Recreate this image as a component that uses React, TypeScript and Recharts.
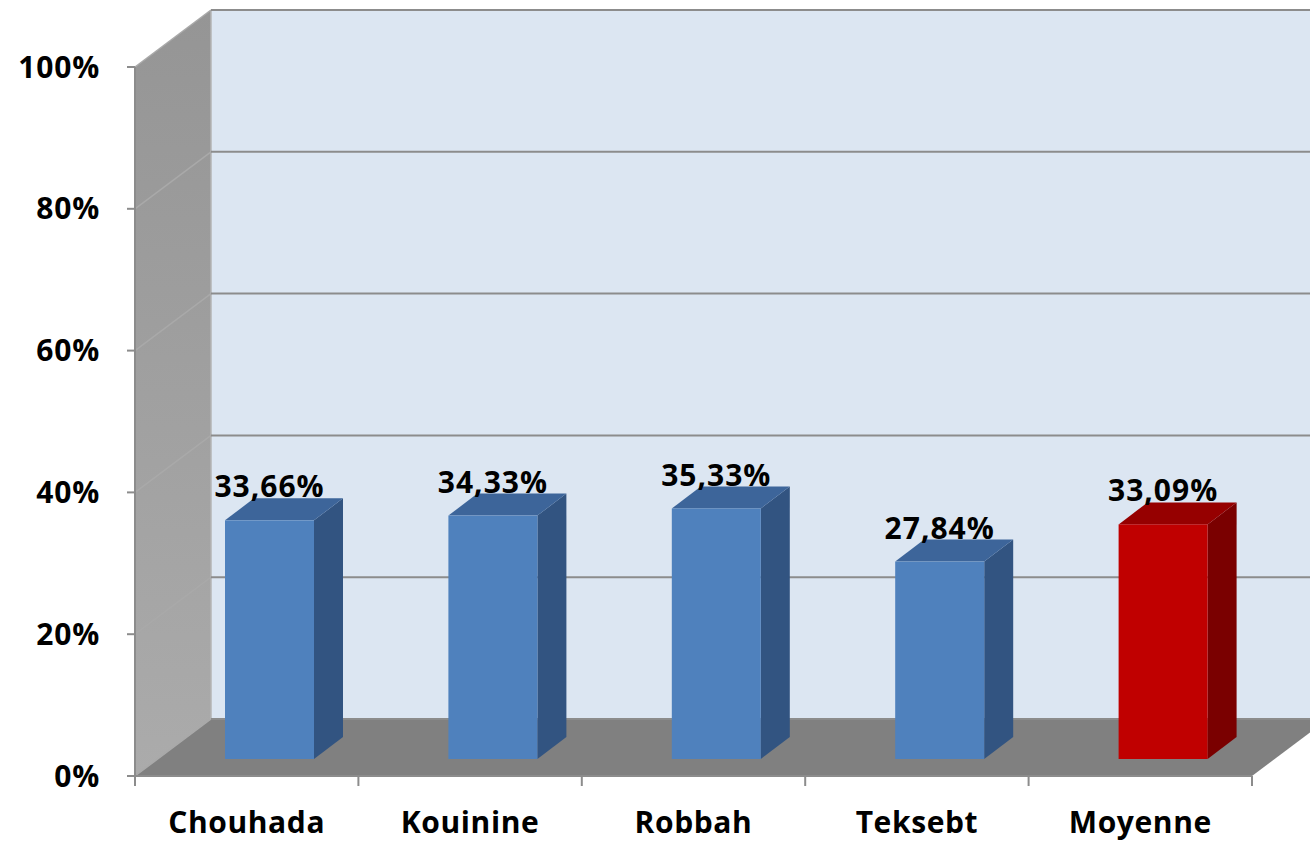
import React from 'react';
import { BarChart, Bar, XAxis, YAxis, CartesianGrid, ReferenceArea } from 'recharts';

const categories = ['Chouhada', 'Kouinine', 'Robbah', 'Teksebt', 'Moyenne'];
const values = [33.66, 34.33, 35.33, 27.84, 33.09];
const valueLabels = ['33,66%', '34,33%', '35,33%', '27,84%', '33,09%'];
const isAverage = [false, false, false, false, true];
const yTicks = [0, 20, 40, 60, 80, 100];

const data = categories.map((name, i) => ({
  name,
  value: values[i],
  label: valueLabels[i],
  avg: isAverage[i],
}));

const FONT = '"Open Sans", "Liberation Sans", sans-serif';
const DX = 76;
const DY = -57;
const BAR_OFF_X = 23;
const BAR_OFF_Y = -17;
const BAR_DEPTH_X = 29;
const BAR_DEPTH_Y = -22;

const BLUE = { front: '#4F81BD', side: '#325481', top: '#3D659A' };
const RED = { front: '#C00000', side: '#7A0000', top: '#960000' };

const Walls = (props: any) => {
  const { x, y, width, height } = props;
  const L = x;
  const R = x + width;
  const T = y;
  const B = y + height;
  return (
    <g>
      <defs>
        <linearGradient id="leftWallGrad" x1="0" y1="0" x2="0" y2="1">
          <stop offset="0" stopColor="#959595" />
          <stop offset="1" stopColor="#ABABAB" />
        </linearGradient>
      </defs>
      <polygon
        points={`${L},${T} ${L + DX},${T + DY} ${L + DX},${B + DY} ${L},${B}`}
        fill="url(#leftWallGrad)"
      />
      <rect x={L + DX} y={T + DY} width={width} height={height} fill="#DCE6F2" />
      <polygon
        points={`${L},${B} ${L + DX},${B + DY} ${R + DX},${B + DY} ${R},${B}`}
        fill="#808080"
      />
      <line x1={L + DX} y1={T + DY} x2={L + DX} y2={B + DY} stroke="#B4B4B4" strokeWidth={1.5} />
    </g>
  );
};

const GridLine = (p: any) => {
  const { x1, y1, x2 } = p;
  return (
    <g key={p.key}>
      <line x1={x1} y1={y1} x2={x1 + DX} y2={y1 + DY} stroke="#A9A9A9" strokeWidth={1.5} />
      <line x1={x1 + DX} y1={y1 + DY} x2={x2 + DX} y2={y1 + DY} stroke="#8C8C8C" strokeWidth={2} />
    </g>
  );
};

const Bar3D = (p: any) => {
  const { x, y, width, height, payload } = p;
  const c = payload && payload.avg ? RED : BLUE;
  const fx = x + BAR_OFF_X;
  const fy = y + BAR_OFF_Y;
  const side = `${fx + width},${fy} ${fx + width + BAR_DEPTH_X},${fy + BAR_DEPTH_Y} ${fx + width + BAR_DEPTH_X},${fy + BAR_DEPTH_Y + height} ${fx + width},${fy + height}`;
  const top = `${fx},${fy} ${fx + BAR_DEPTH_X},${fy + BAR_DEPTH_Y} ${fx + width + BAR_DEPTH_X},${fy + BAR_DEPTH_Y} ${fx + width},${fy}`;
  return (
    <g>
      <polygon points={side} fill={c.side} />
      <polygon points={top} fill={c.top} />
      <rect x={fx} y={fy} width={width} height={height} fill={c.front} />
      <text
        x={fx + width / 2}
        y={fy + BAR_DEPTH_Y - 1}
        textAnchor="middle"
        fontFamily={FONT}
        fontWeight={700}
        fontSize={30}
        letterSpacing={1}
        fill="#000"
      >
        {payload ? payload.label : ''}
      </text>
    </g>
  );
};

const XTick = (p: any) => {
  const { x, y, payload, index, visibleTicksCount } = p;
  const off = payload && typeof payload.offset === 'number' ? payload.offset : 0;
  const last = index === (visibleTicksCount ?? categories.length) - 1;
  return (
    <g>
      {off > 0 && (
        <line x1={x - off} y1={y} x2={x - off} y2={y + 10} stroke="#8C8C8C" strokeWidth={2} />
      )}
      {off > 0 && last && (
        <line x1={x + off} y1={y} x2={x + off} y2={y + 10} stroke="#8C8C8C" strokeWidth={2} />
      )}
      <text
        x={x}
        y={y + 57}
        textAnchor="middle"
        fontFamily={FONT}
        fontWeight={700}
        fontSize={30}
        letterSpacing={0.6}
        fill="#000"
      >
        {payload ? payload.value : ''}
      </text>
    </g>
  );
};

export default function App() {
  return (
    <div
      style={{
        position: 'absolute',
        left: 0,
        top: 0,
        width: 1310,
        height: 843,
        overflow: 'hidden',
        background: '#fff',
      }}
    >
      <BarChart
        width={1310}
        height={843}
        data={data}
        margin={{ top: 67, right: 58, left: 0, bottom: 0 }}
        barSize={89}
      >
        <ReferenceArea y1={0} y2={100} shape={Walls} ifOverflow="visible" zIndex={-200} />
        <CartesianGrid vertical={false} horizontal={GridLine} />
        <XAxis
          dataKey="name"
          interval={0}
          height={67}
          tickLine={false}
          tickSize={0}
          tickMargin={0}
          axisLine={{ stroke: '#8C8C8C', strokeWidth: 2 }}
          tick={<XTick />}
        />
        <YAxis
          type="number"
          domain={[0, 100]}
          ticks={yTicks}
          width={135}
          tickSize={8}
          tickMargin={27}
          tickFormatter={(v: number) => `${v}%`}
          axisLine={{ stroke: '#8C8C8C', strokeWidth: 2 }}
          tickLine={{ stroke: '#8C8C8C', strokeWidth: 2 }}
          tick={{ fill: '#000', fontSize: 30, fontWeight: 700, fontFamily: FONT, letterSpacing: 0.8 }}
        />
        <Bar dataKey="value" shape={Bar3D} isAnimationActive={false} />
      </BarChart>
    </div>
  );
}
